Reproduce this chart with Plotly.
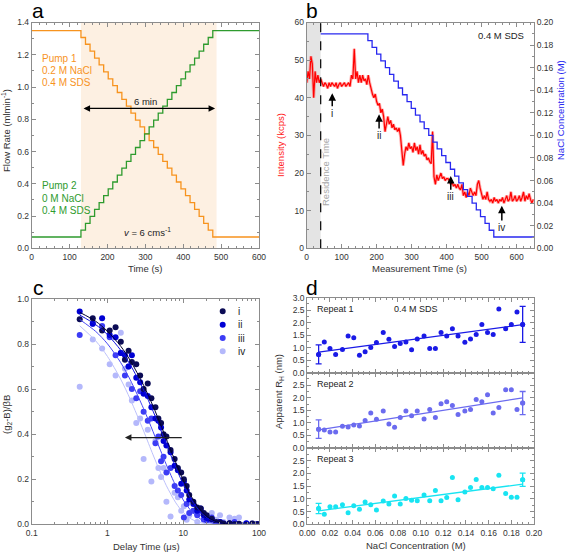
import plotly.graph_objects as go
import math

# ---------------- DATA ----------------
# Panel a: pump flow rates (staircase)
a_step_times = [0, 130, 142, 154, 166, 178, 190, 202, 214, 226, 238, 250, 262, 274, 286, 298, 310,
                322, 334, 346, 358, 370, 382, 394, 406, 418, 430, 442, 454, 466, 478, 600]
pump1_levels = [1.350, 1.307, 1.265, 1.222, 1.179, 1.137, 1.094, 1.051, 1.009, 0.966, 0.923, 0.881,
                0.838, 0.795, 0.753, 0.710, 0.667, 0.625, 0.582, 0.539, 0.497, 0.454, 0.411, 0.369,
                0.326, 0.283, 0.241, 0.198, 0.155, 0.113, 0.070, 0.070]
pump2_levels = [0.070, 0.113, 0.155, 0.198, 0.241, 0.283, 0.326, 0.369, 0.411, 0.454, 0.497, 0.539,
                0.582, 0.625, 0.667, 0.710, 0.753, 0.795, 0.838, 0.881, 0.923, 0.966, 1.009, 1.051,
                1.094, 1.137, 1.179, 1.222, 1.265, 1.307, 1.350, 1.350]

# Panel b: scattering intensity (kcps) sampled every 4 s
intensity = [44, 47, 45, 51, 49, 40, 47, 44, 46, 44, 45,
             44, 43, 44, 43.5, 42.5, 44, 43, 44, 43.5, 43, 44, 42.5, 43.5, 44, 43, 43.5, 44, 43, 43.5, 44, 43,
             46, 45, 53, 45, 47, 44, 46, 44, 46, 44.5, 45, 43.5, 46,
             44, 42, 41, 40, 41, 39, 38, 38.5, 36, 37, 35,
             31, 33, 35, 33, 34, 32, 33, 31.5, 32, 31, 32, 30,
             26, 22, 25, 27, 26, 28, 26.5, 27, 25.5, 28, 26, 27, 25, 27.5, 25, 26, 24.5, 25, 23.5, 24, 23, 22.5,
             31, 19, 17, 19.5, 18, 19, 20, 18.5, 19, 18, 18.5, 18.5, 18, 17, 17.5, 16.5, 17, 16, 17, 16, 15.5,
             17, 14, 15, 13.5, 15, 14, 16, 15, 14, 15, 14, 17, 18, 16, 14.5, 13, 14, 13, 15, 13, 12.5, 13, 12,
             13.5, 12.5, 13, 12, 13, 12.5, 13.5, 12, 13, 14, 12.5, 13, 15, 12.5, 13, 14, 12.5, 13, 14, 12.5,
             13.5, 15, 12.5, 14, 13, 14.5, 13, 12, 13]
intensity_dt = 4
b_step_times = [40, 175, 187, 200, 212, 225, 237, 249, 262, 274, 287, 299, 311, 324, 336, 349, 361,
                373, 386, 398, 411, 423, 435, 448, 460, 473, 485, 497, 510, 522, 535, 650]
nacl_levels = [0.190, 0.184, 0.178, 0.172, 0.166, 0.160, 0.154, 0.148, 0.142, 0.136, 0.130, 0.124,
               0.118, 0.112, 0.106, 0.100, 0.094, 0.088, 0.082, 0.076, 0.070, 0.064, 0.058, 0.052,
               0.046, 0.040, 0.034, 0.028, 0.022, 0.016, 0.010, 0.010]

# Panel c: correlation functions
tau = [0.43, 0.64, 0.85, 1.07, 1.28, 1.5, 1.7, 1.9, 2.1, 2.4, 2.7, 3.0, 3.4, 3.8, 4.3, 4.7, 5.1, 5.5,
       6.0, 6.8, 7.7, 8.5, 9.4, 10.2, 11.1, 12.0, 13.6, 15.3, 17.0, 18.7, 20.4, 23.8, 27.2, 30.6, 34.0,
       40.8, 47.6, 54.4, 68, 81.6, 95.2]
g_i = [0.91, 0.915, 0.86, 0.86, 0.875, 0.81, 0.73, 0.77, 0.72, 0.71, 0.66, 0.60, 0.625, 0.56, 0.52,
       0.47, 0.45, 0.40, 0.39, 0.33, 0.29, 0.25, 0.23, 0.20, 0.17, 0.13, 0.10, 0.075, 0.07, 0.05, 0.04,
       0.025, 0.01, 0.008, 0.003, 0.005, 0.0, 0.002, -0.002, 0.003, 0.0]
g_ii = [0.945, 0.89, 0.915, 0.84, 0.83, 0.76, 0.75, 0.70, 0.75, 0.65, 0.63, 0.58, 0.57, 0.52, 0.47,
        0.46, 0.43, 0.37, 0.35, 0.32, 0.26, 0.24, 0.18, 0.19, 0.15, 0.11, 0.09, 0.06, 0.07, 0.04, 0.02,
        0.02, 0.005, 0.01, 0.0, 0.005, 0.0, -0.003, 0.004, 0.0, 0.0]
g_iii = [0.84, 0.89, 0.88, 0.83, 0.75, 0.76, 0.66, 0.70, 0.60, 0.56, 0.59, 0.50, 0.46, 0.47, 0.36,
         0.39, 0.28, 0.30, 0.23, 0.25, 0.17, 0.15, 0.13, 0.03, 0.09, 0.05, 0.06, 0.04, 0.06, 0.02, 0.02,
         0.03, 0.0, 0.01, 0.005, 0.0, 0.01, 0.0, 0.005, 0.0, 0.0]
g_iv = [0.61, 0.82, 0.78, 0.71, 0.66, 0.85, 0.69, 0.62, 0.55, 0.45, 0.47, 0.29, 0.42, 0.19, 0.37,
        0.25, 0.21, 0.25, 0.10, 0.035, 0.14, 0.12, 0.06, 0.08, 0.02, 0.04, 0.06, 0.01, 0.05, 0.03, 0.0,
        0.05, 0.02, 0.04, 0.01, 0.03, 0.025, 0.03, 0.0, 0.005, 0.0]
tau_fit = [0.43, 0.7, 1, 1.5, 2, 3, 4, 5, 6, 8, 10, 13, 17, 22, 30, 45, 100]
fit_i = [0.941, 0.901, 0.857, 0.790, 0.727, 0.617, 0.524, 0.445, 0.378, 0.273, 0.196, 0.120, 0.063, 0.027, 0.007, 0.001, 0.0]
fit_ii = [0.929, 0.886, 0.842, 0.772, 0.708, 0.596, 0.502, 0.422, 0.355, 0.252, 0.178, 0.106, 0.053, 0.023, 0.006, 0.0, 0.0]
fit_iii = [0.909, 0.856, 0.801, 0.717, 0.641, 0.513, 0.411, 0.329, 0.264, 0.169, 0.108, 0.056, 0.023, 0.008, 0.001, 0.0, 0.0]
fit_iv = [0.881, 0.814, 0.745, 0.643, 0.555, 0.414, 0.308, 0.230, 0.171, 0.095, 0.053, 0.022, 0.007, 0.002, 0.0, 0.0, 0.0]
series_labels = ["i", "ii", "iii", "iv"]

# Panel d: apparent hydrodynamic radius
nacl_x = [0.010, 0.015, 0.020, 0.025, 0.031, 0.036, 0.041, 0.046, 0.051, 0.056, 0.061, 0.067,
          0.072, 0.077, 0.082, 0.087, 0.092, 0.097, 0.103, 0.108, 0.113, 0.118, 0.123, 0.128,
          0.133, 0.139, 0.144, 0.149, 0.154, 0.159, 0.164, 0.169, 0.175, 0.180, 0.185, 0.190]
rep1 = [0.73, 1.23, 0.97, 0.73, 0.93, 1.47, 1.40, 0.70, 0.84, 1.01, 1.21, 1.61, 1.34, 1.05, 1.17, 1.23,
        0.92, 1.35, 1.47, 0.97, 0.97, 1.61, 1.47, 1.76, 1.47, 1.22, 1.35, 1.53, 1.93, 1.61, 1.53, 2.55,
        1.76, 1.93, 2.43, 1.93]
rep2 = [0.75, 0.72, 0.64, 0.64, 0.87, 0.84, 0.92, 0.88, 1.10, 1.39, 1.15, 1.47, 0.96, 0.83, 1.22, 1.47,
        1.28, 1.47, 1.16, 1.53, 1.22, 1.76, 1.84, 1.69, 1.33, 1.47, 1.53, 1.93, 1.84, 2.12, 1.39, 1.61,
        2.32, 2.32, 1.53, 1.79]
rep3 = [0.62, 0.40, 0.69, 0.69, 0.77, 0.45, 0.73, 0.59, 0.88, 0.77, 0.56, 0.92, 0.80, 1.11, 0.80, 1.01,
        0.95, 0.93, 1.15, 0.93, 1.33, 0.93, 1.05, 1.84, 0.97, 1.27, 1.45, 1.76, 1.45, 1.45, 1.40, 1.93,
        1.21, 1.06, 1.06, 1.75]
fit_x = [0.01, 0.19]
rep1_fit = [0.82, 1.92]
rep2_fit = [0.72, 2.00]
rep3_fit = [0.53, 1.58]
rep1_err = [0.38, 0.72]
rep2_err = [0.37, 0.46]
rep3_err = [0.20, 0.26]

# ---------------- FIGURE ----------------
W, H = 568, 554
FONT = "Liberation Sans, Arial, sans-serif"
AX = "#8c8c8c"
TXT = "#333333"


def PX(x):
    return x / W


def PY(y):
    return 1 - y / H


fig = go.Figure()

# panel a
fig.add_trace(go.Scatter(x=a_step_times, y=pump1_levels, mode="lines", line=dict(color="#f7931e", width=1.3, shape="hv"),
                         xaxis="x", yaxis="y"))
fig.add_trace(go.Scatter(x=a_step_times, y=pump2_levels, mode="lines", line=dict(color="#2e9b2e", width=1.3, shape="hv"),
                         xaxis="x", yaxis="y"))

# panel b
t_int = [intensity_dt * i for i in range(len(intensity))]
fig.add_trace(go.Scatter(x=t_int, y=intensity, mode="lines", line=dict(color="rgba(255,90,90,0.5)", width=3),
                         xaxis="x2", yaxis="y2"))
fig.add_trace(go.Scatter(x=t_int, y=intensity, mode="lines", line=dict(color="#ff0000", width=1.2),
                         xaxis="x2", yaxis="y2"))
fig.add_trace(go.Scatter(x=b_step_times, y=nacl_levels, mode="lines", line=dict(color="#2828f0", width=1.3, shape="hv"),
                         xaxis="x2", yaxis="y3"))

# panel c
c_cols = ["#0b0b55", "#0000d4", "#3c3cf5", "#b4b8fb"]
c_line = ["#000033", "#1010e0", "#4848f5", "#bcc0fb"]
for g, mc in zip([g_iv, g_iii, g_ii, g_i], c_cols[::-1]):
    fig.add_trace(go.Scatter(x=tau, y=g, mode="markers", marker=dict(color=mc, size=6),
                             xaxis="x4", yaxis="y4"))
for f, lc in zip([fit_iv, fit_iii, fit_ii, fit_i], c_line[::-1]):
    fig.add_trace(go.Scatter(x=tau_fit, y=f, mode="lines", line=dict(color=lc, width=1, shape="spline", smoothing=0.8),
                             xaxis="x4", yaxis="y4"))

# panel d
d_cols = ["#1a1ae6", "#6b6bef", "#18e4f2"]
for i, (rv, fv, ev, col) in enumerate(zip([rep1, rep2, rep3], [rep1_fit, rep2_fit, rep3_fit],
                                          [rep1_err, rep2_err, rep3_err], d_cols)):
    xa, ya = "x%d" % (5 + i), "y%d" % (5 + i)
    fig.add_trace(go.Scatter(x=nacl_x, y=rv, mode="markers", marker=dict(color=col, size=5), xaxis=xa, yaxis=ya))
    fig.add_trace(go.Scatter(x=fit_x, y=fv, mode="lines", line=dict(color=col, width=1.3), xaxis=xa, yaxis=ya))
    fig.add_trace(go.Scatter(x=[nacl_x[0], nacl_x[-1]], y=[rv[0], rv[-1]], mode="markers",
                             marker=dict(color=col, size=5),
                             error_y=dict(type="data", array=ev, color=col, thickness=1.3, width=3),
                             xaxis=xa, yaxis=ya))


def axstyle(**kw):
    d = dict(showline=True, linecolor=AX, linewidth=1, ticks="inside", ticklen=4, tickcolor=AX,
             tickfont=dict(family=FONT, size=8.5, color=TXT), showgrid=False, zeroline=False,
             mirror="ticks", fixedrange=True, automargin=False)
    d.update(kw)
    return d


def minor_x(dt):
    return dict(ticks="inside", ticklen=2, dtick=dt, tickcolor=AX, showgrid=False)


xa_dom = [PX(31.7), PX(259)]
xb_dom = [PX(306.7), PX(534)]
xd_dom = [PX(307.3), PX(534)]
top_dom = [PY(248.3), PY(22.5)]
c_dom = [PY(524.3), PY(299)]

fig.update_layout(
    xaxis=axstyle(domain=xa_dom, anchor="y", range=[0, 600], dtick=100, minor=minor_x(20)),
    yaxis=axstyle(domain=top_dom, anchor="x", range=[0, 1.4], dtick=0.2, tickformat=".1f", minor=minor_x(0.1)),
    xaxis2=axstyle(domain=xb_dom, anchor="y2", range=[0, 650], dtick=100, minor=minor_x(20)),
    yaxis2=axstyle(domain=top_dom, anchor="x2", range=[0, 60], dtick=10, minor=minor_x(5), mirror=False),
    yaxis3=axstyle(overlaying="y2", anchor="x2", side="right", range=[0, 0.2], dtick=0.02, tickformat=".2f",
                   minor=minor_x(0.01), mirror=False),
    xaxis4=axstyle(domain=xa_dom, anchor="y4", type="log", range=[-1, 2], dtick=1,
                   minor=dict(ticks="inside", ticklen=2, tickcolor=AX, showgrid=False)),
    yaxis4=axstyle(domain=c_dom, anchor="x4", range=[0, 1.0], dtick=0.2, tickformat=".1f", minor=minor_x(0.1)),
)

d_bounds = [297.7, 372.7, 448.0, 524.3]
for i in range(3):
    n = 5 + i
    ydom = [PY(d_bounds[i + 1]), PY(d_bounds[i])]
    tv = [0, 0.5, 1.0, 1.5, 2.0, 2.5, 3.0] if i == 0 else [0, 0.5, 1.0, 1.5, 2.0, 2.5]
    fig.layout["xaxis%d" % n] = axstyle(domain=xd_dom, anchor="y%d" % n, range=[0, 0.2], dtick=0.02,
                                       tickformat=".2f", showticklabels=(i == 2), minor=minor_x(0.005))
    fig.layout["yaxis%d" % n] = axstyle(domain=ydom, anchor="x%d" % n, range=[0, 3.0], tickvals=tv,
                                       tickformat=".1f", minor=dict(ticks="inside", ticklen=2, dtick=0.25,
                                                                    tickcolor=AX, showgrid=False))

shapes = [
    dict(type="rect", xref="x", yref="y", x0=130, x1=488, y0=0, y1=1.4, fillcolor="#fdf0e2", line=dict(width=0),
         layer="below"),
    dict(type="rect", xref="x2", yref="y2", x0=0, x1=40, y0=0, y1=60, fillcolor="#e4e4e4", line=dict(width=0),
         layer="below"),
    dict(type="line", xref="x2", yref="y2", x0=40, x1=40, y0=0, y1=60, line=dict(color="black", width=1.2, dash="dash")),
]
# legend markers for panel c
leg_y = [311.3, 324.7, 338.0, 351.3]
for yy, col in zip(leg_y, c_cols):
    shapes.append(dict(type="circle", xref="paper", yref="paper", xsizemode="pixel", ysizemode="pixel",
                       xanchor=PX(222.7), yanchor=PY(yy), x0=-3, x1=3, y0=-3, y1=3,
                       fillcolor=col, line=dict(width=0)))

ann = []


def text(x, y, s, size=9.5, color=TXT, xanchor="center", angle=0, **kw):
    ann.append(dict(x=PX(x), y=PY(y), xref="paper", yref="paper", text=s, showarrow=False,
                    font=dict(family=FONT, size=size, color=color), xanchor=xanchor, yanchor="middle",
                    textangle=angle, **kw))


# panel letters
text(38, 10, "a", size=21, color="black")
text(312, 10, "b", size=21, color="black")
text(38, 287, "c", size=21, color="black")
text(312, 287, "d", size=21, color="black")

# axis titles
text(145, 268, "Time (s)", size=9.5)
text(6, 131, "Flow Rate (mlmin<sup>-1</sup>)", size=9.5, angle=-90)
text(419, 268, "Measurement Time (s)", size=9.5)
text(281, 145, "Intensity (kcps)", size=9.5, color="#ff2020", angle=-90)
text(561, 110, "NaCl Concentration (M)", size=9.5, color="#2828f0", angle=-90)
text(146, 546, "Delay Time (μs)", size=9.5)
text(7, 415, "(g<sub>2</sub>-B)/βB", size=9.5, angle=-90)
text(416, 545, "NaCl Concentration (M)", size=9.5)
text(279, 392, "Apparent R<sub>H</sub> (nm)", size=9.5, angle=-90)

# panel a labels
for yy, s in zip([58, 70.5, 82], ["Pump 1", "0.2 M NaCl", "0.4 M SDS"]):
    text(40, yy, s, size=10, color="#f7931e", xanchor="left")
for yy, s in zip([185, 198.5, 210.5], ["Pump 2", "0 M NaCl", "0.4 M SDS"]):
    text(40, yy, s, size=10, color="#2e9b2e", xanchor="left")
text(145, 102, "6 min", size=9.5, color="#222")
text(147, 232, "<i>v</i> = 6 cms<sup>-1</sup>", size=9.5, color="#222")
ann.append(dict(x=484, y=0.867, ax=133, ay=0.867, xref="x", yref="y", axref="x", ayref="y", text="",
                showarrow=True, arrowhead=2, arrowside="end+start", arrowsize=1, arrowwidth=1.3, arrowcolor="black"))

# panel b labels
text(501, 35, "0.4 M SDS", size=9.5, color="#222")
text(326, 172, "Residence Time", size=9.5, color="#a8a8a8", angle=-90)
for (xx, tip, lab, labtxt) in [(73, 41.2, 35.9, "i"), (207, 35.6, 30.0, "ii"),
                               (412, 19.2, 13.7, "iii"), (558, 11.3, 5.5, "iv")]:
    ann.append(dict(x=xx, y=tip, ax=xx, ay=lab, xref="x2", yref="y2", axref="x2", ayref="y2", text=labtxt,
                    showarrow=True, arrowhead=2, arrowsize=1, arrowwidth=1.5, arrowcolor="black",
                    font=dict(family=FONT, size=10, color="#222")))

# panel c arrow + legend labels
ann.append(dict(x=math.log10(1.7), y=0.385, ax=math.log10(10), ay=0.385, xref="x4", yref="y4", axref="x4",
                ayref="y4", text="", showarrow=True, arrowhead=2, arrowsize=1, arrowwidth=1.3, arrowcolor="#222"))
for yy, s in zip(leg_y, series_labels):
    text(236, yy, s, size=10, color="#222", xanchor="left")

# panel d labels
text(315, 308.5, "Repeat 1", size=9, color="#222", xanchor="left")
text(416, 308.5, "0.4 M SDS", size=9, color="#222")
text(315, 383.5, "Repeat 2", size=9, color="#222", xanchor="left")
text(315, 458.5, "Repeat 3", size=9, color="#222", xanchor="left")

fig.update_layout(width=W, height=H, margin=dict(l=0, r=0, t=0, b=0, autoexpand=False), paper_bgcolor="white",
                  plot_bgcolor="rgba(0,0,0,0)", showlegend=False, shapes=shapes, annotations=ann,
                  font=dict(family=FONT, size=9, color=TXT))

fig.write_html("out.html", config={"displayModeBar": False, "staticPlot": True},
               post_script="document.body.style.margin='0px';document.body.style.padding='0px';"
                           "document.body.style.overflow='hidden';")
